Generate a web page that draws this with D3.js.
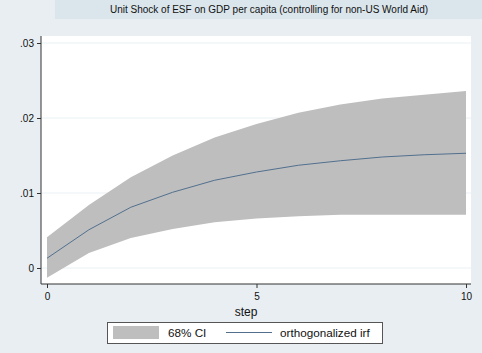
<!DOCTYPE html>
<html><head><meta charset="utf-8">
<script src="https://cdn.jsdelivr.net/npm/d3@7"></script>
<style>body{margin:0;background:#e8eef1;} svg{display:block;font-family:"Liberation Sans",Arial,sans-serif;}</style>
</head><body>
<script>
const steps = [0,1,2,3,4,5,6,7,8,9,10];
const irf   = [0.0013,0.0051,0.0081,0.0101,0.0117,0.0128,0.0137,0.0143,0.0148,0.0151,0.0153];
const upper = [0.0041,0.0084,0.0121,0.0150,0.0174,0.0192,0.0207,0.0218,0.0226,0.0231,0.0236];
const lower = [-0.0013,0.0020,0.0040,0.0052,0.0061,0.0066,0.0069,0.0071,0.0071,0.0071,0.0071];
const yTicks = [0,0.01,0.02,0.03];
const yTickLabels = ["0",".01",".02",".03"];
const xTicks = [0,5,10];
const title = "Unit Shock of ESF on GDP per capita (controlling for non-US World Aid)";
const xTitle = "step";
const legendLabels = ["68% CI","orthogonalized irf"];

const W=482,H=353;
const svg=d3.select("body").append("svg").attr("width",W).attr("height",H);
svg.append("rect").attr("width",W).attr("height",H).attr("fill","#e8eef1");
// title band
svg.append("rect").attr("x",55).attr("y",0).attr("width",W-55).attr("height",19).attr("fill","#dbe6ec");
svg.append("text").attr("x",269).attr("y",13).attr("text-anchor","middle").attr("font-size",10).attr("fill","#111").text(title);

const pl=41,pr=471,pt=36,pb=284;
svg.append("rect").attr("x",pl).attr("y",pt).attr("width",pr-pl).attr("height",pb-pt).attr("fill","#fff");
const x=d3.scaleLinear().domain([0,10]).range([47,466]);
const y=d3.scaleLinear().domain([0,0.03]).range([268,43]);

// grid
svg.append("g").selectAll("line").data(yTicks).join("line")
  .attr("x1",pl).attr("x2",pr).attr("y1",d=>y(d)).attr("y2",d=>y(d))
  .attr("stroke","#eaf1f4").attr("stroke-width",1);

const area=d3.area().x((d,i)=>x(steps[i])).y0((d,i)=>y(lower[i])).y1((d,i)=>y(upper[i]));
svg.append("path").datum(steps).attr("d",area).attr("fill","#bebebe");
const line=d3.line().x((d,i)=>x(steps[i])).y((d,i)=>y(irf[i]));
svg.append("path").datum(steps).attr("d",line).attr("fill","none").attr("stroke","#52708e").attr("stroke-width",1);

// axes
const ya=svg.append("g").attr("transform",`translate(${pl},0)`)
  .call(d3.axisLeft(y).tickValues(yTicks).tickFormat((d,i)=>yTickLabels[i]).tickSize(4).tickSizeOuter(0));
ya.select(".domain").attr("d",`M0,${pt}V${pb}`).attr("stroke","#333");
ya.selectAll(".tick line").attr("stroke","#333");
ya.selectAll("text").attr("font-size",10).attr("fill","#111").attr("font-family","Liberation Sans, Arial, sans-serif");

const xa=svg.append("g").attr("transform",`translate(0,${pb})`)
  .call(d3.axisBottom(x).tickValues(xTicks).tickFormat(d3.format("d")).tickSize(4).tickSizeOuter(0));
xa.select(".domain").attr("d",`M${pl},0H${pr}`).attr("stroke","#333");
xa.selectAll(".tick line").attr("stroke","#333");
xa.selectAll("text").attr("font-size",10).attr("fill","#111").attr("font-family","Liberation Sans, Arial, sans-serif").attr("dy","0.9em");

svg.append("text").attr("x",246).attr("y",316).attr("text-anchor","middle").attr("font-size",12).attr("fill","#111").text(xTitle);

// legend
const lg=svg.append("g");
lg.append("rect").attr("x",107.5).attr("y",322.5).attr("width",275).attr("height",21).attr("fill","#fff").attr("stroke","#555");
lg.append("rect").attr("x",113).attr("y",326).attr("width",46).attr("height",13).attr("fill","#bebebe");
lg.append("text").attr("x",168).attr("y",337).attr("font-size",11.7).attr("fill","#111").text(legendLabels[0]);
lg.append("line").attr("x1",226).attr("x2",272).attr("y1",332.5).attr("y2",332.5).attr("stroke","#52708e").attr("stroke-width",1.2);
lg.append("text").attr("x",280).attr("y",337).attr("font-size",11.7).attr("fill","#111").text(legendLabels[1]);
</script>
</body></html>
